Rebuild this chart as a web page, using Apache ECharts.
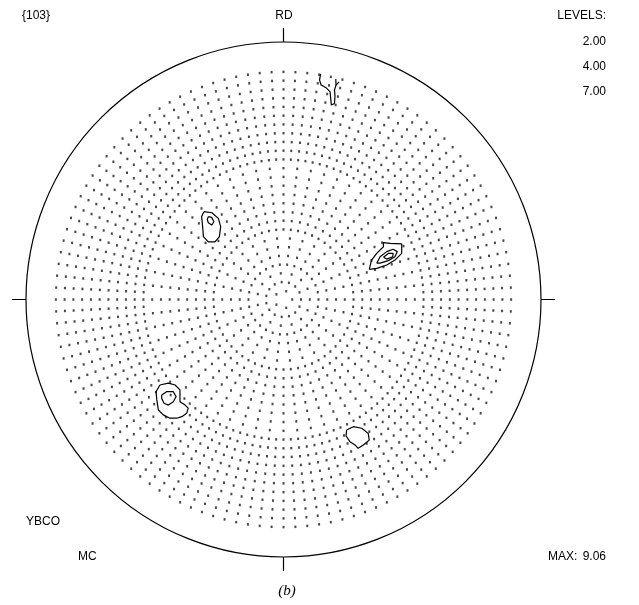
<!DOCTYPE html>
<html>
<head>
<meta charset="utf-8">
<title>{103} pole figure</title>
<script src="https://cdn.jsdelivr.net/npm/echarts@6/dist/echarts.min.js"></script>
<style>
  html, body { margin: 0; padding: 0; background: #fff; }
  #main { width: 639px; height: 605px; }
</style>
</head>
<body>
<div id="main"></div>
<script>
// measurement grid: radius of each ring (projection units, 1 = rim) and dots per ring
var ringRadii = [0.034, 0.068, 0.102, 0.136, 0.170, 0.204, 0.238, 0.272, 0.306, 0.340,
  0.374, 0.408, 0.442, 0.476, 0.510, 0.544, 0.578, 0.612, 0.646, 0.680,
  0.714, 0.748, 0.782, 0.816, 0.850, 0.884];
var dotsPerRing = [5, 15, 15, 30, 30, 30, 30, 60, 60, 60,
  60, 60, 60, 60, 60, 120, 120, 120, 120, 120,
  120, 120, 120, 120, 120, 120];

// contour lines (x, y in projection units, centre = 0,0, RD up)
var contourA = [[0.144, 0.876], [0.140, 0.852], [0.146, 0.833], [0.167, 0.821], [0.181, 0.806],
  [0.183, 0.782], [0.186, 0.755], [0.198, 0.761], [0.200, 0.790], [0.198, 0.813],
  [0.204, 0.833], [0.203, 0.856]];
var contourA2 = [[0.204, 0.833], [0.216, 0.845]];
var contourB1 = [[-0.309, 0.341], [-0.278, 0.337], [-0.253, 0.315], [-0.244, 0.283], [-0.249, 0.244],
  [-0.266, 0.224], [-0.292, 0.224], [-0.311, 0.244], [-0.314, 0.283], [-0.318, 0.322]];
var contourB2 = [[-0.292, 0.322], [-0.279, 0.319], [-0.270, 0.302], [-0.279, 0.289], [-0.292, 0.298],
  [-0.296, 0.311]];
var contourC1 = [[0.333, 0.117], [0.342, 0.153], [0.362, 0.179], [0.388, 0.205], [0.388, 0.221],
  [0.414, 0.218], [0.459, 0.216], [0.459, 0.179], [0.433, 0.153], [0.401, 0.134], [0.362, 0.121]];
var contourC2 = [[0.362, 0.141], [0.375, 0.166], [0.401, 0.186], [0.426, 0.195], [0.442, 0.186],
  [0.433, 0.166], [0.407, 0.151], [0.375, 0.141]];
var contourC3 = [[0.388, 0.164], [0.407, 0.179], [0.426, 0.179], [0.424, 0.166], [0.401, 0.157]];
var contourD1 = [[-0.480, -0.332], [-0.447, -0.325], [-0.421, -0.332], [-0.402, -0.351], [-0.402, -0.397],
  [-0.382, -0.410], [-0.370, -0.422], [-0.376, -0.442], [-0.395, -0.455], [-0.415, -0.461],
  [-0.441, -0.461], [-0.467, -0.448], [-0.486, -0.429], [-0.492, -0.390], [-0.495, -0.358]];
var contourD2 = [[-0.473, -0.371], [-0.454, -0.358], [-0.428, -0.358], [-0.417, -0.377], [-0.428, -0.397],
  [-0.447, -0.410], [-0.464, -0.403], [-0.473, -0.384]];
var contourE = [[0.245, -0.507], [0.271, -0.494], [0.304, -0.500], [0.329, -0.520], [0.333, -0.546],
  [0.310, -0.565], [0.290, -0.578], [0.278, -0.565], [0.258, -0.552], [0.243, -0.530]];
var peakMarks = [[-0.438, -0.371]];

var openLines = [contourA, contourA2];
var closedLines = [contourB1, contourB2, contourC1, contourC2, contourC3, contourD1, contourD2, contourE];
var outerLoops = [contourB1, contourC1, contourD1, contourE];

var headerText = '{103}';
var axisName = 'RD';
var levelTitle = 'LEVELS:';
var levelLabels = ['2.00', '4.00', '7.00'];
var sampleName = 'YBCO';
var methodName = 'MC';
var maxLabel = 'MAX:';
var maxValue = '9.06';
var panelLabel = '(b)';

// x,y -> [radius, angle] for the polar system
function toPolar(p) {
  var r = Math.sqrt(p[0] * p[0] + p[1] * p[1]);
  var a = Math.atan2(p[1], p[0]) * 180 / Math.PI;
  if (a < 0) a += 360;
  return [r, a];
}

function inside(pt, poly) {
  var c = false;
  for (var i = 0, j = poly.length - 1; i < poly.length; j = i++) {
    var xi = poly[i][0], yi = poly[i][1], xj = poly[j][0], yj = poly[j][1];
    if (((yi > pt[1]) != (yj > pt[1])) && (pt[0] < (xj - xi) * (pt[1] - yi) / (yj - yi) + xi)) c = !c;
  }
  return c;
}

var dots = [];
ringRadii.forEach(function (r, k) {
  var n = dotsPerRing[k];
  for (var i = 0; i < n; i++) {
    var a = 360 * i / n;
    var t = a * Math.PI / 180;
    var xy = [r * Math.cos(t), r * Math.sin(t)];
    var skip = outerLoops.some(function (poly) { return inside(xy, poly); });
    if (!skip) dots.push([r, a]);
  }
});
peakMarks.forEach(function (p) { dots.push(toPolar(p)); });

var series = [{
  type: 'scatter',
  coordinateSystem: 'polar',
  data: dots,
  symbol: 'rect',
  symbolSize: [2, 2.5],
  itemStyle: { color: '#1a1a1a' },
  silent: true
}];

openLines.forEach(function (line) {
  series.push({
    type: 'line', coordinateSystem: 'polar', data: line.map(toPolar),
    showSymbol: false, silent: true, lineStyle: { color: '#000', width: 1.2 }
  });
});
closedLines.forEach(function (line) {
  var pts = line.concat([line[0]]);
  series.push({
    type: 'line', coordinateSystem: 'polar', data: pts.map(toPolar),
    showSymbol: false, silent: true, lineStyle: { color: '#000', width: 1.2 }
  });
});

var txtFont = '12px "Liberation Sans", sans-serif';
var graphics = [
  { type: 'text', x: 22, y: 16, style: { text: headerText, font: txtFont, fill: '#000', verticalAlign: 'middle' } },
  { type: 'text', x: 284, y: 16, style: { text: axisName, font: txtFont, fill: '#000', align: 'center', verticalAlign: 'middle' } },
  { type: 'text', x: 606, y: 16, style: { text: levelTitle, font: txtFont, fill: '#000', align: 'right', verticalAlign: 'middle' } },
  { type: 'text', x: 26, y: 522, style: { text: sampleName, font: txtFont, fill: '#000', verticalAlign: 'middle' } },
  { type: 'text', x: 78, y: 557, style: { text: methodName, font: txtFont, fill: '#000', verticalAlign: 'middle' } },
  { type: 'text', x: 548, y: 557, style: { text: maxLabel, font: txtFont, fill: '#000', verticalAlign: 'middle' } },
  { type: 'text', x: 606, y: 557, style: { text: maxValue, font: txtFont, fill: '#000', align: 'right', verticalAlign: 'middle' } },
  { type: 'text', x: 287, y: 591, style: { text: panelLabel, font: 'italic 15px "Liberation Serif", serif', fill: '#000', align: 'center', verticalAlign: 'middle' } }
];
levelLabels.forEach(function (s, i) {
  graphics.push({ type: 'text', x: 606, y: 42 + i * 25, style: { text: s, font: txtFont, fill: '#000', align: 'right', verticalAlign: 'middle' } });
});

var chart = echarts.init(document.getElementById('main'));
chart.setOption({
  animation: false,
  backgroundColor: '#fff',
  polar: { center: [283.5, 299.5], radius: 257.5 },
  angleAxis: {
    type: 'value', min: 0, max: 360, interval: 90, startAngle: 0, clockwise: false,
    axisLine: { lineStyle: { color: '#000', width: 1.2 } },
    axisTick: { show: true, inside: false, length: 14, lineStyle: { color: '#000', width: 1.2 } },
    axisLabel: { show: false },
    splitLine: { show: false }
  },
  radiusAxis: {
    type: 'value', min: 0, max: 1, show: false,
    axisLine: { show: false }, axisTick: { show: false }, axisLabel: { show: false }, splitLine: { show: false }
  },
  graphic: graphics,
  series: series
});
</script>
</body>
</html>
